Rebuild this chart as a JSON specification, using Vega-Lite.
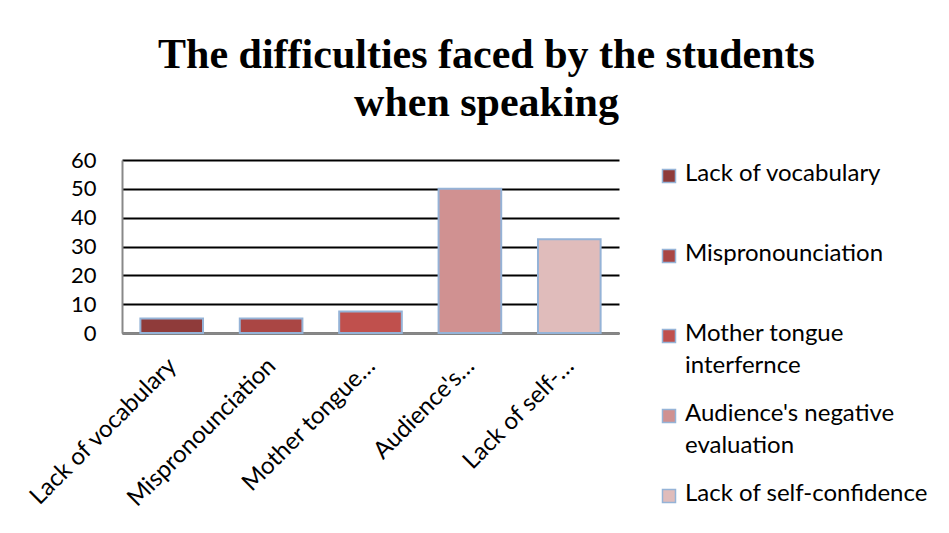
{
  "$schema": "https://vega.github.io/schema/vega-lite/v6.json",
  "width": 497,
  "height": 173,
  "autosize": {"type": "none"},
  "padding": {"left": 122, "top": 160, "right": 330, "bottom": 200},
  "background": "white",
  "title": {
    "text": ["The difficulties faced by the students", "when speaking"],
    "font": "Liberation Serif",
    "fontSize": 42,
    "fontWeight": "bold",
    "color": "black",
    "lineHeight": 48,
    "anchor": "middle",
    "frame": "group",
    "dx": 116,
    "offset": 24
  },
  "data": {
    "values": [
      {"difficulty": "Lack of vocabulary", "percent": 5},
      {"difficulty": "Mispronounciation", "percent": 5},
      {"difficulty": "Mother tongue interfernce", "percent": 7.5},
      {"difficulty": "Audience's negative evaluation", "percent": 50},
      {"difficulty": "Lack of self-confidence", "percent": 32.5}
    ]
  },
  "mark": {"type": "bar", "stroke": "#95B3D7", "strokeWidth": 2, "opacity": 1},
  "encoding": {
    "x": {
      "field": "difficulty",
      "type": "nominal",
      "sort": null,
      "scale": {"paddingInner": 0.37, "paddingOuter": 0.185},
      "axis": {
        "title": null,
        "labelAngle": -45,
        "labelAlign": "right",
        "labelBaseline": "middle",
        "labelPadding": 29,
        "labelOffset": 1,
        "labelFont": "Lato",
        "labelFontSize": 24,
        "labelColor": "black",
        "labelLimit": 400,
        "labelExpr": "datum.label == 'Mother tongue interfernce' ? 'Mother tongue…' : datum.label == \"Audience's negative evaluation\" ? \"Audience's…\" : datum.label == 'Lack of self-confidence' ? 'Lack of self-…' : datum.label",
        "ticks": false,
        "domainColor": "#888888",
        "domainWidth": 2,
        "grid": false
      }
    },
    "y": {
      "field": "percent",
      "type": "quantitative",
      "scale": {"domain": [0, 60], "nice": false},
      "axis": {
        "title": null,
        "values": [0, 10, 20, 30, 40, 50, 60],
        "labelFont": "Lato",
        "labelFontSize": 22,
        "labelColor": "black",
        "labelPadding": 26,
        "ticks": false,
        "domainColor": "#888888",
        "domainWidth": 2,
        "grid": true,
        "gridColor": "black",
        "gridWidth": 2,
        "gridOpacity": 1
      }
    },
    "color": {
      "field": "difficulty",
      "type": "nominal",
      "sort": null,
      "scale": {
        "domain": ["Lack of vocabulary", "Mispronounciation", "Mother tongue interfernce", "Audience's negative evaluation", "Lack of self-confidence"],
        "range": ["#8F3B3A", "#AA4644", "#C0504D", "#D09191", "#E0BCBB"]
      },
      "legend": {
        "title": null,
        "orient": "none",
        "legendX": 535,
        "legendY": 4,
        "padding": 0,
        "columns": 1,
        "gridAlign": "all",
        "rowPadding": 24,
        "symbolType": "square",
        "symbolSize": 169,
        "symbolStrokeColor": "#95B3D7",
        "symbolStrokeWidth": 1.5,
        "symbolOpacity": 1,
        "labelFont": "Lato",
        "labelFontSize": 24,
        "labelColor": "black",
        "labelOffset": 4,
        "labelLimit": 300,
        "labelBaseline": "top",
        "labelExpr": "datum.label == 'Mother tongue interfernce' ? ['Mother tongue', 'interfernce'] : datum.label == \"Audience's negative evaluation\" ? [\"Audience's negative\", 'evaluation'] : datum.label",
        "encode": {
          "labels": {"update": {"lineHeight": {"value": 32}, "dy": {"value": -14}}}
        }
      }
    }
  },
  "config": {
    "view": {"stroke": null}
  }
}
